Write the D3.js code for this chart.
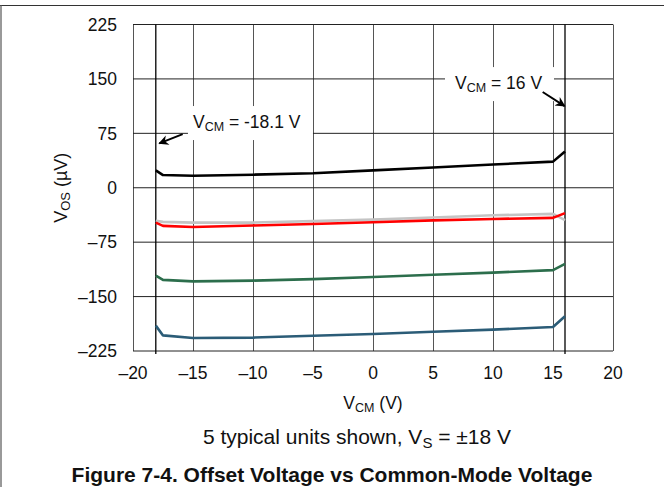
<!DOCTYPE html>
<html>
<head>
<meta charset="utf-8">
<script src="https://cdn.jsdelivr.net/npm/d3@7"></script>
<style>
  body { margin: 0; background: #fff; }
  svg { font-family: "Liberation Sans", Arial, sans-serif; }
</style>
</head>
<body>
<div id="chart"></div>
<script>
// Common-mode voltage sample points (V)
const vcm = [-18.1, -17.5, -15, -10, -5, 0, 5, 10, 15, 16];

// Offset voltage for the 5 units (uV)
const unitBlack = [24, 17.5, 16.5, 18, 20, 24, 28, 32, 36, 50];
const unitGray  = [-45.5, -47, -48, -48, -46, -44, -41, -38, -36, -44.5];
const unitRed   = [-48, -52.5, -54, -52, -50, -47.5, -45, -43, -41.5, -35];
const unitGreen = [-121, -127, -129, -128, -126, -123, -120, -117, -113.5, -105];
const unitBlue  = [-190, -203.5, -207, -206.5, -204, -201.5, -198.5, -195.5, -192, -177];

const xTicks = [-20, -15, -10, -5, 0, 5, 10, 15, 20];
const yTicks = [-225, -150, -75, 0, 75, 150, 225];
const limits = [-18.1, 16];

const W = 664, H = 487;
const margin = { top: 24.5, right: 51, bottom: 136, left: 133 };
const width = W - margin.left - margin.right;
const height = H - margin.top - margin.bottom;

const svg = d3.select("#chart").append("svg")
    .attr("width", W)
    .attr("height", H);

// page frame lines
svg.append("line").attr("x1", 0).attr("x2", W).attr("y1", 5.5).attr("y2", 5.5)
    .attr("stroke", "#333").attr("stroke-width", 1.2);
svg.append("line").attr("x1", 1).attr("x2", 1).attr("y1", 5).attr("y2", H)
    .attr("stroke", "#555").attr("stroke-width", 1.2);

const g = svg.append("g")
    .attr("transform", `translate(${margin.left},${margin.top})`);

const x = d3.scaleLinear().domain([-20, 20]).range([0, width]);
const y = d3.scaleLinear().domain([-225, 225]).range([height, 0]);

const fmt = v => (v < 0 ? "\u2013" + Math.abs(v) : String(v));

// grid
g.selectAll(".vgrid").data(xTicks).enter().append("line")
    .attr("x1", d => Math.round(x(d)) + 0.5).attr("x2", d => Math.round(x(d)) + 0.5)
    .attr("y1", 0).attr("y2", height)
    .attr("stroke", "#555").attr("stroke-width", 1);

g.selectAll(".hgrid").data(yTicks).enter().append("line")
    .attr("x1", 0).attr("x2", width)
    .attr("y1", d => y(d)).attr("y2", d => y(d))
    .attr("stroke", "#222").attr("stroke-width", 1);

// limit lines at the common-mode range ends
g.selectAll(".limit").data(limits).enter().append("line")
    .attr("x1", d => x(d)).attr("x2", d => x(d))
    .attr("y1", 0).attr("y2", height + 3)
    .attr("stroke", "#000").attr("stroke-width", 1.3);

// tick labels
g.selectAll(".ylab").data(yTicks).enter().append("text")
    .attr("x", -16).attr("y", d => y(d)).attr("dy", "0.36em")
    .attr("text-anchor", "end").attr("font-size", 17.5).attr("fill", "#111")
    .text(fmt);

g.selectAll(".xlab").data(xTicks).enter().append("text")
    .attr("x", d => x(d)).attr("y", height + 28)
    .attr("text-anchor", "middle").attr("font-size", 17.5).attr("fill", "#111")
    .text(fmt);

// curves
const series = [
    { vals: unitGray, color: "#c4c4c4" },
    { vals: unitRed, color: "#ff0000" },
    { vals: unitGreen, color: "#2c6e4c" },
    { vals: unitBlue, color: "#2b5c77" },
    { vals: unitBlack, color: "#000000" }
];

const line = d3.line()
    .x((d, i) => x(vcm[i]))
    .y(d => y(d));

g.selectAll(".curve").data(series).enter().append("path")
    .attr("d", d => line(d.vals))
    .attr("fill", "none")
    .attr("stroke", d => d.color)
    .attr("stroke-width", 2.6)
    .attr("stroke-linejoin", "round");

// annotations
svg.append("defs").append("marker")
    .attr("id", "arrow")
    .attr("viewBox", "0 0 10 10")
    .attr("refX", 9).attr("refY", 5)
    .attr("markerWidth", 12).attr("markerHeight", 10)
    .attr("markerUnits", "userSpaceOnUse")
    .attr("orient", "auto")
    .append("path")
    .attr("d", "M0,0 L10,5 L0,10 L3,5 Z")
    .attr("fill", "#000");

function label(xv, yv, boxW, pad, value) {
    // white box behind label hides the grid
    g.append("rect")
        .attr("x", x(xv)).attr("y", y(yv) - 22)
        .attr("width", boxW).attr("height", 34)
        .attr("fill", "#fff");
    const t = g.append("text")
        .attr("x", x(xv) + pad).attr("y", y(yv))
        .attr("font-size", 17.5).attr("fill", "#111");
    t.append("tspan").text("V");
    t.append("tspan").attr("font-size", 12.5).attr("dy", 3).text("CM");
    t.append("tspan").attr("dy", -3).text(" = " + value + " V");
}

label(-15.42, 82.3, 125, 5, "-18.1");
label(6, 136, 109, 10, "16");

g.append("line")
    .attr("x1", x(-15.86)).attr("y1", y(74))
    .attr("x2", x(-17.81)).attr("y2", y(61.2))
    .attr("stroke", "#000").attr("stroke-width", 2)
    .attr("marker-end", "url(#arrow)");

g.append("line")
    .attr("x1", x(14.14)).attr("y1", y(132))
    .attr("x2", x(15.97)).attr("y2", y(112.6))
    .attr("stroke", "#000").attr("stroke-width", 2)
    .attr("marker-end", "url(#arrow)");

// axis titles
const yTitle = svg.append("text")
    .attr("transform", `translate(67, ${margin.top + y(0)}) rotate(-90)`)
    .attr("text-anchor", "middle").attr("font-size", 18).attr("fill", "#111");
yTitle.append("tspan").text("V");
yTitle.append("tspan").attr("font-size", 13).attr("dy", 3).text("OS");
yTitle.append("tspan").attr("dy", -3).text(" (\u00b5V)");

const xTitle = svg.append("text")
    .attr("x", margin.left + x(0)).attr("y", 409)
    .attr("text-anchor", "middle").attr("font-size", 17.5).attr("fill", "#111");
xTitle.append("tspan").text("V");
xTitle.append("tspan").attr("font-size", 12.5).attr("dy", 3).text("CM");
xTitle.append("tspan").attr("dy", -3).text(" (V)");

const note = svg.append("text")
    .attr("x", 357).attr("y", 444)
    .attr("text-anchor", "middle").attr("font-size", 21).attr("fill", "#111");
note.append("tspan").text("5 typical units shown, V");
note.append("tspan").attr("font-size", 15).attr("dy", 4).text("S");
note.append("tspan").attr("dy", -4).text(" = \u00b118 V");

svg.append("text")
    .attr("x", 332).attr("y", 482)
    .attr("text-anchor", "middle").attr("font-size", 21)
    .attr("font-weight", "bold").attr("fill", "#111")
    .text("Figure 7-4. Offset Voltage vs Common-Mode Voltage");
</script>
</body>
</html>
